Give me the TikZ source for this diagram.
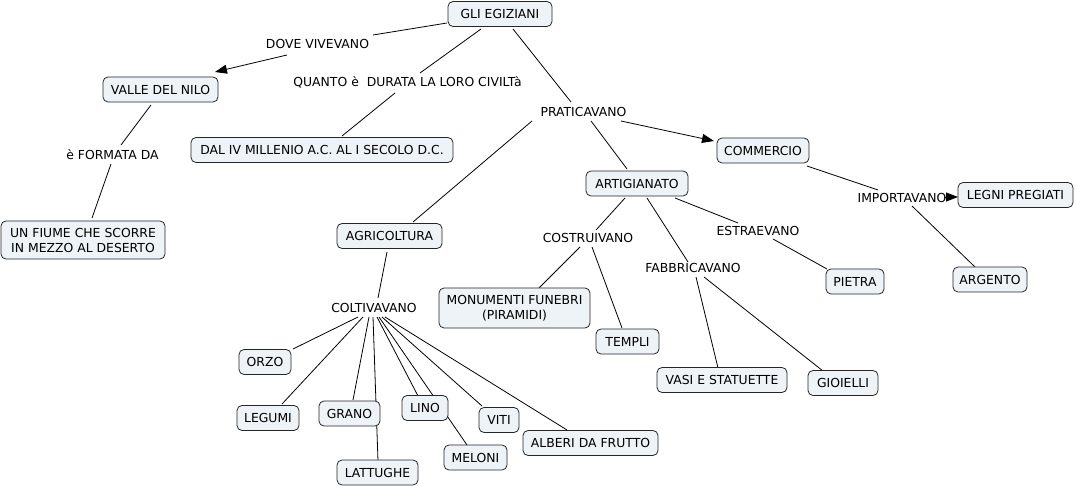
\documentclass[tikz,border=0pt]{standalone}
\usepackage{fontspec}
\setmainfont{DejaVu Sans}
\usetikzlibrary{arrows.meta,calc,backgrounds}
\definecolor{boxfill}{RGB}{237,243,246}
\begin{document}
\begin{tikzpicture}[x=1pt,y=-1pt,
  concept/.style={draw=black!85,fill=boxfill,rounded corners=5pt,line width=0.8pt,
    inner xsep=5pt,inner ysep=3pt,minimum height=25pt,
    font=\fontsize{12.4}{15}\selectfont,align=center},
  lbl/.style={inner sep=0pt,font=\fontsize{12.4}{15}\selectfont},
  link/.style={line width=0.8pt,black},
  arr/.style={link,-{Triangle[length=12pt,width=9pt]}}]
\useasboundingbox (0,0) rectangle (1076,486);

% concepts
\node[concept,minimum width=104pt] (egiz) at (500,14) {GLI EGIZIANI};
\node[concept,minimum width=115pt] (valle) at (160.5,89.5) {VALLE DEL NILO};
\node[concept,minimum width=262pt] (dal) at (322,150) {DAL IV MILLENIO A.C. AL I SECOLO D.C.};
\node[concept,minimum width=164pt,minimum height=38pt] (fiume) at (83,240) {UN FIUME CHE SCORRE\\IN MEZZO AL DESERTO};
\node[concept,minimum width=105pt] (agri) at (389.5,236) {AGRICOLTURA};
\node[concept,minimum width=102pt] (artig) at (637,183.5) {ARTIGIANATO};
\node[concept,minimum width=92pt] (comm) at (763,150.5) {COMMERCIO};
\node[concept,minimum width=115pt] (legni) at (1015.5,195) {LEGNI PREGIATI};
\node[concept,minimum width=74pt] (argento) at (990,279.5) {ARGENTO};
\node[concept,minimum width=58pt] (pietra) at (855,281.5) {PIETRA};
\node[concept,minimum width=151pt,minimum height=40pt] (monum) at (514.5,308) {MONUMENTI FUNEBRI\\(PIRAMIDI)};
\node[concept,minimum width=63pt] (templi) at (627.5,341.5) {TEMPLI};
\node[concept,minimum width=130pt] (vasi) at (722,380) {VASI E STATUETTE};
\node[concept,minimum width=70pt] (gioielli) at (843,383) {GIOIELLI};
\node[concept,minimum width=52pt] (orzo) at (265,362) {ORZO};
\node[concept,minimum width=62pt] (legumi) at (268,418) {LEGUMI};
\node[concept,minimum width=61pt] (grano) at (349.5,413.5) {GRANO};
\node[concept,minimum width=81pt] (lattughe) at (377.5,472.5) {LATTUGHE};
\node[concept,minimum width=46pt] (lino) at (425,408) {LINO};
\node[concept,minimum width=63pt] (meloni) at (475.5,457.5) {MELONI};
\node[concept,minimum width=40pt] (viti) at (499,420) {VITI};
\node[concept,minimum width=135pt] (alberi) at (590.5,443) {ALBERI DA FRUTTO};

% link labels
\node[lbl] (dove) at (317.5,44) {DOVE VIVEVANO};
\node[lbl] (quanto) at (407.5,82.5) {QUANTO è~\ DURATA LA LORO CIVILTà};
\node[lbl] (formata) at (112.5,154.5) {è FORMATA DA};
\node[lbl] (prat) at (583.5,111.5) {PRATICAVANO};
\node[lbl] (import) at (902,197.5) {IMPORTAVANO};
\node[lbl] (estr) at (758,230.5) {ESTRAEVANO};
\node[lbl] (costr) at (588,238) {COSTRUIVANO};
\node[lbl] (fabbr) at (693,268) {FABBRICAVANO};
\node[lbl] (colt) at (374,308) {COLTIVAVANO};

\begin{scope}[on background layer]
\draw[link] ($(egiz.center)+(-53,9)$) -- ($(dove.center)+(55.5,-9)$);
\draw[arr] ($(dove.center)+(-30.5,11)$) -- ($(valle.center)+(54.5,-17.5)$);
\draw[link] ($(egiz.center)+(-19,15)$) -- ($(quanto.center)+(12.5,-9.5)$);
\draw[link] ($(quanto.center)+(-12.5,10.5)$) -- ($(dal.center)+(20,-14)$);
\draw[link] ($(valle.center)+(-9.5,15.5)$) -- ($(formata.center)+(8.5,-9.5)$);
\draw[link] ($(formata.center)+(-1.5,9.5)$) -- ($(fiume.center)+(9,-22)$);
\draw[link] ($(egiz.center)+(13,15)$) -- ($(prat.center)+(-12.5,-9.5)$);
\draw[arr] ($(prat.center)+(37.5,9.5)$) -- ($(comm.center)+(-49,-9.5)$);
\draw[link] ($(prat.center)+(7.5,9.5)$) -- ($(artig.center)+(-10,-14.5)$);
\draw[link] ($(prat.center)+(-51.5,9.5)$) -- ($(agri.center)+(23.5,-14)$);
\draw[link] ($(agri.center)+(-2.5,16)$) -- ($(colt.center)+(4,-10)$);
\draw[link] ($(colt.center)+(-16,9)$) -- ($(orzo.center)+(28,-13)$);
\draw[link] ($(colt.center)+(-11,9)$) -- ($(legumi.center)+(14,-14)$);
\draw[link] ($(colt.center)+(-5,9)$) -- ($(grano.center)+(3.5,-13.5)$);
\draw[link] ($(colt.center)+(-1,9)$) -- ($(lattughe.center)+(0.5,-11.5)$);
\draw[link] ($(colt.center)+(3,9)$) -- ($(lino.center)+(-7,-12)$);
\draw[link] ($(colt.center)+(5,9)$) -- ($(meloni.center)+(-8.5,-12.5)$);
\draw[link] ($(colt.center)+(8,9)$) -- ($(viti.center)+(-17,-14)$);
\draw[link] ($(colt.center)+(11,9)$) -- ($(alberi.center)+(-23.5,-13)$);
\draw[link] ($(artig.center)+(-12,14.5)$) -- ($(costr.center)+(8,-8)$);
\draw[link] ($(costr.center)+(-8,9)$) -- ($(monum.center)+(24.5,-20)$);
\draw[link] ($(costr.center)+(4,9)$) -- ($(templi.center)+(-5.5,-13.5)$);
\draw[link] ($(artig.center)+(10,14.5)$) -- ($(fabbr.center)+(-5,-6)$);
\draw[link] ($(fabbr.center)+(3,9)$) -- ($(vasi.center)+(-4,-12)$);
\draw[link] ($(fabbr.center)+(11,9)$) -- ($(gioielli.center)+(-20,-12)$);
\draw[link] ($(artig.center)+(38,14.5)$) -- ($(estr.center)+(-20,-7.5)$);
\draw[link] ($(estr.center)+(15,8.5)$) -- ($(pietra.center)+(-28,-12.5)$);
\draw[link] ($(comm.center)+(44,15.5)$) -- ($(import.center)+(-24,-7.5)$);
\draw[arr] ($(import.center)+(42,-0.5)$) -- ($(legni.center)+(-57.5,2)$);
\draw[link] ($(import.center)+(10,8.5)$) -- ($(argento.center)+(-15,-12.5)$);
\end{scope}
\end{tikzpicture}
\end{document}
